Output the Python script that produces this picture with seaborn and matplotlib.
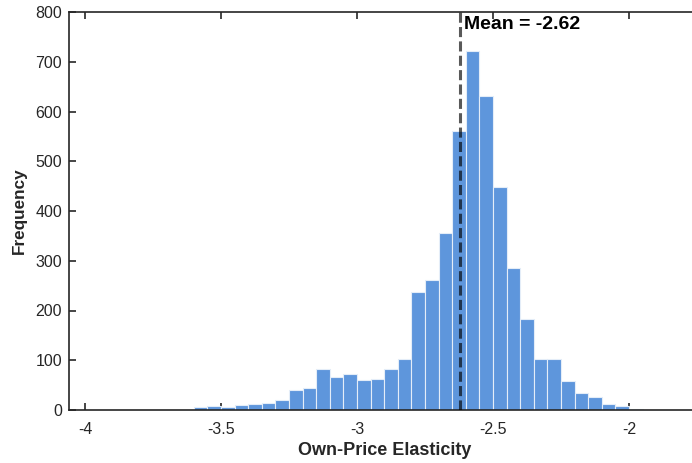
import numpy as np
import pandas as pd
import seaborn as sns
import matplotlib.pyplot as plt

# Histogram of estimated own-price elasticities (bin width 0.05)
bin_edges = [-3.60, -3.55, -3.50, -3.45, -3.40, -3.35, -3.30, -3.25, -3.20, -3.15,
             -3.10, -3.05, -3.00, -2.95, -2.90, -2.85, -2.80, -2.75, -2.70, -2.65,
             -2.60, -2.55, -2.50, -2.45, -2.40, -2.35, -2.30, -2.25, -2.20, -2.15,
             -2.10, -2.05, -2.00, -1.95]
bin_counts = [6, 8, 7, 10, 13, 15, 20, 40, 44, 83,
              66, 73, 61, 62, 83, 103, 237, 262, 355, 561,
              721, 632, 448, 286, 183, 103, 102, 58, 35, 27,
              12, 8, 3]
mean_value = -2.62

x_ticks = [-4, -3.5, -3, -2.5, -2]
x_tick_labels = ["-4", "-3.5", "-3", "-2.5", "-2"]
y_ticks = [0, 100, 200, 300, 400, 500, 600, 700, 800]

sns.set_theme(style="ticks")
plt.rcParams["font.family"] = ["Liberation Sans", "DejaVu Sans"]
plt.rcParams["axes.unicode_minus"] = False

centers = [(a + b) / 2 for a, b in zip(bin_edges[:-1], bin_edges[1:])]
df = pd.DataFrame({"elasticity": centers, "count": bin_counts})

fig = plt.figure(figsize=(6.92, 4.63), dpi=100)
ax = fig.add_axes([69 / 692, 53 / 463, (700 - 69) / 692, 398 / 463])

sns.histplot(data=df, x="elasticity", weights="count", bins=bin_edges, ax=ax,
             color="#5E96DC", alpha=1.0, edgecolor="#E4EDF8", linewidth=0.8)

ax.axvline(mean_value, color="black", alpha=0.65, lw=2.2,
           ls=(0, (3.3, 1.4)), zorder=3)
ax.text(mean_value + 0.012, 774, f"Mean = {mean_value:.2f}",
        fontsize=14, fontweight="bold", ha="left", va="center", color="black")

ax.set_xlim(-4.0588, -1.739)
ax.set_ylim(0, 800)
ax.set_xticks(x_ticks)
ax.set_xticklabels(x_tick_labels)
ax.set_yticks(y_ticks)

edge = "#262626"
for s in ax.spines.values():
    s.set_visible(True)
    s.set_linewidth(1.2)
    s.set_color(edge)
ax.tick_params(direction="in", top=True, right=True, length=5, width=1.2,
               color=edge, labelsize=11.5, labelcolor="#262626")
ax.tick_params(axis="x", pad=9)
ax.tick_params(axis="y", pad=5)

ax.set_xlabel("Own-Price Elasticity", fontsize=13, fontweight="bold",
              color="#262626", labelpad=3)
ax.set_ylabel("Frequency", fontsize=12.3, fontweight="bold",
              color="#262626", labelpad=6)

fig.savefig("out.png", dpi=100)
